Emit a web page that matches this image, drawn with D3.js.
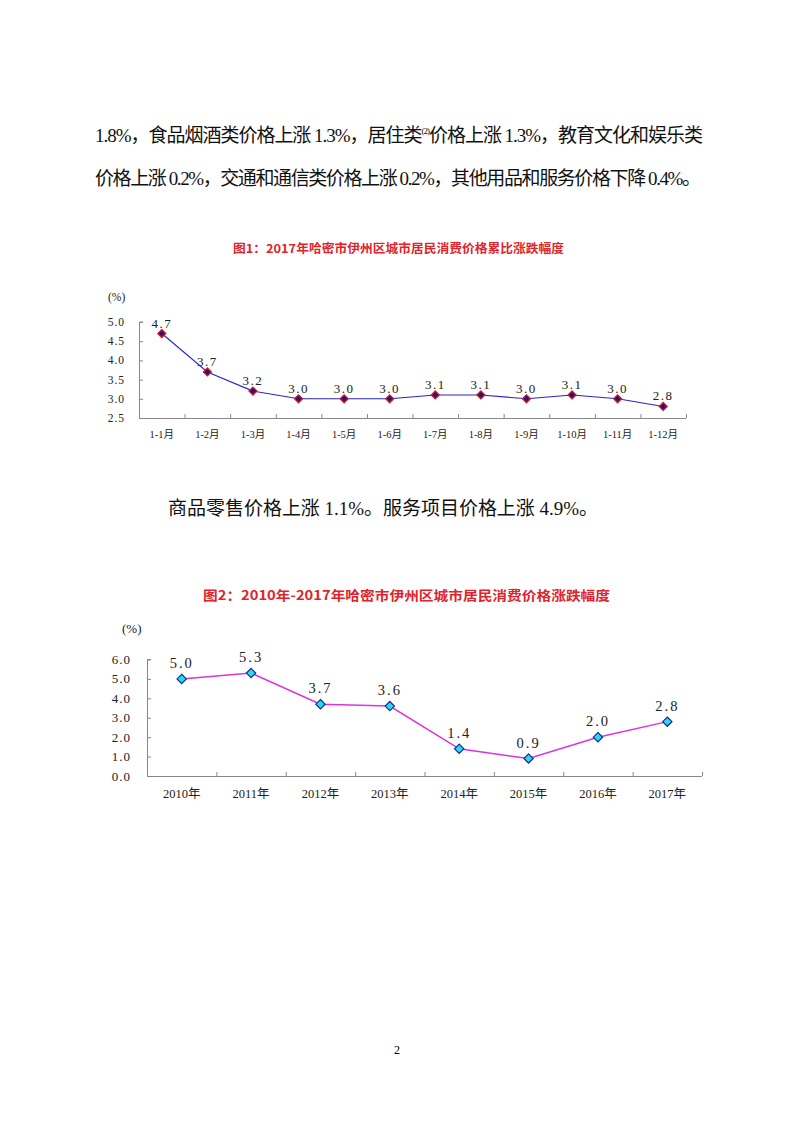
<!DOCTYPE html>
<html><head><meta charset="utf-8">
<script src="https://cdn.jsdelivr.net/npm/d3@7"></script>
<style>
html,body{margin:0;padding:0;background:#fff;}
svg{display:block;}
</style>
</head><body>
<script>
// ---- data ----
const bodyLines = [
  "1.8%，食品烟酒类价格上涨 1.3%，居住类",
  "价格上涨 0.2%，交通和通信类价格上涨 0.2%，其他用品和服务价格下降 0.4%。",
  "商品零售价格上涨 1.1%。服务项目价格上涨 4.9%。"
];
const chart1Title = "图1：2017年哈密市伊州区城市居民消费价格累比涨跌幅度";
const chart1Cats = ["1-1月","1-2月","1-3月","1-4月","1-5月","1-6月","1-7月","1-8月","1-9月","1-10月","1-11月","1-12月"];
const chart1Vals = [4.7,3.7,3.2,3.0,3.0,3.0,3.1,3.1,3.0,3.1,3.0,2.8];
const chart1Ticks = [2.5,3.0,3.5,4.0,4.5,5.0];

const chart2Title = "图2：2010年-2017年哈密市伊州区城市居民消费价格涨跌幅度";
const chart2Cats = ["2010年","2011年","2012年","2013年","2014年","2015年","2016年","2017年"];
const chart2Vals = [5.0,5.3,3.7,3.6,1.4,0.9,2.0,2.8];
const chart2Ticks = [0,1,2,3,4,5,6];

const W = 793, H = 1122;
const svg = d3.select("body").append("svg").attr("width", W).attr("height", H);
const serif = "'Liberation Serif','DejaVu Serif','Noto Sans CJK SC',serif";
const body = "'Liberation Serif','Noto Sans CJK SC',serif";
const cjk = "'Noto Sans CJK SC','Liberation Serif',serif";

// ---- body text ----
const line1 = svg.append("text").attr("x", 95).attr("y", 142)
  .attr("font-family", body).attr("font-size", 19).attr("fill", "#111");
line1.append("tspan").text(bodyLines[0]);
line1.append("tspan").attr("font-size", 9).attr("dy", -8).text("(2)");
line1.append("tspan").attr("dy", 8).text("价格上涨 1.3%，教育文化和娱乐类");
line1.attr("textLength", 608).attr("lengthAdjust", "spacing");

svg.append("text").attr("x", 95).attr("y", 185)
  .attr("font-family", body).attr("font-size", 19).attr("fill", "#111")
  .attr("textLength", 606).attr("lengthAdjust", "spacing").text(bodyLines[1]);

svg.append("text").attr("x", 168).attr("y", 515)
  .attr("font-family", body).attr("font-size", 19).attr("fill", "#111")
  .attr("textLength", 430).attr("lengthAdjust", "spacing").text(bodyLines[2]);

svg.append("text").attr("x", 397).attr("y", 1054).attr("text-anchor", "middle")
  .attr("font-family", serif).attr("font-size", 12).attr("fill", "#000").text("2");

// ---- generic line chart ----
function lineChart(o) {
  const g = svg.append("g");
  const x = d3.scaleBand().domain(o.cats).range([o.x0, o.x1]);
  const y = d3.scaleLinear().domain(o.domain).range([o.yb, o.yt]);

  g.append("text").attr("x", (o.titleX0 + o.titleX1) / 2).attr("y", o.titleY)
    .attr("text-anchor", "middle").attr("dominant-baseline", "central")
    .attr("font-family", cjk).attr("font-weight", "bold").attr("font-size", o.titleSize)
    .attr("fill", "#e1232b")
    .attr("textLength", o.titleX1 - o.titleX0).attr("lengthAdjust", "spacingAndGlyphs")
    .text(o.title);

  g.append("text").attr("x", o.pctX).attr("y", o.pctY).attr("dominant-baseline", "central")
    .attr("font-family", serif).attr("font-size", o.tickSize).attr("fill", "#222").text("(%)");

  // y axis
  const ya = g.append("g").attr("transform", `translate(${o.x0},0)`)
    .call(d3.axisRight(y).tickValues(o.ticks).tickSize(4).tickFormat(""));
  ya.select(".domain").attr("stroke", "#888").attr("d", `M4,${o.yt}H0.5V${o.yb}`);
  ya.selectAll(".tick line").attr("stroke", "#888");
  g.selectAll(".ylab").data(o.ticks).join("text")
    .attr("x", o.ylabX).attr("y", d => y(d)).attr("text-anchor", "end")
    .attr("dominant-baseline", "central")
    .attr("font-family", serif).attr("font-size", o.tickSize).attr("fill", "#222")
    .attr("letter-spacing", 1)
    .text(d => d3.format(".1f")(d));

  // x axis
  const bounds = o.cats.map(c => x(c)).concat([o.x1]);
  const xa = g.append("g");
  xa.append("line").attr("x1", o.x0).attr("x2", o.x1).attr("y1", o.yb + 0.5).attr("y2", o.yb + 0.5)
    .attr("stroke", "#888");
  xa.selectAll(".xt").data(bounds).join("line")
    .attr("x1", d => d + 0.5).attr("x2", d => d + 0.5).attr("y1", o.yb).attr("y2", o.yb - 4)
    .attr("stroke", "#888");
  g.selectAll(".xlab").data(o.cats).join("text")
    .attr("x", d => x(d) + x.bandwidth() / 2).attr("y", o.xlabY)
    .attr("text-anchor", "middle").attr("dominant-baseline", "central")
    .attr("font-family", serif).attr("font-size", o.catSize).attr("fill", "#222")
    .text(d => d);

  // line
  const pts = o.cats.map((c, i) => [x(c) + x.bandwidth() / 2, y(o.vals[i])]);
  g.append("path").attr("d", d3.line()(pts)).attr("fill", "none")
    .attr("stroke", o.lineColor).attr("stroke-width", o.lineWidth);

  // markers
  const sym = d3.symbol().type(d3.symbolDiamond2).size(o.markSize);
  g.selectAll(".mk").data(pts).join("path")
    .attr("transform", d => `translate(${d[0]},${d[1]})`)
    .attr("d", sym).attr("fill", o.markFill).attr("stroke", o.markStroke).attr("stroke-width", o.markStrokeW);

  // labels
  g.selectAll(".dl").data(o.vals).join("text")
    .attr("x", (d, i) => pts[i][0]).attr("y", (d, i) => pts[i][1] - o.labelGap)
    .attr("text-anchor", "middle")
    .attr("font-family", serif).attr("font-size", o.labelSize).attr("fill", "#222")
    .attr("letter-spacing", o.labelSpacing)
    .text(d => d3.format(".1f")(d));
}

lineChart({
  cats: chart1Cats, vals: chart1Vals, ticks: chart1Ticks, domain: [2.5, 5.0],
  x0: 139, x1: 686, yb: 418, yt: 322,
  title: chart1Title, titleX0: 233, titleX1: 564, titleY: 247, titleSize: 12,
  pctX: 108, pctY: 297, ylabX: 125, tickSize: 11.5, catSize: 10.5, xlabY: 434,
  lineColor: "#2626c8", lineWidth: 1.1,
  markSize: 40, markFill: "#1a1a7a", markStroke: "#e0141e", markStrokeW: 1.3,
  labelGap: 6, labelSize: 13, labelSpacing: 1.5
});

lineChart({
  cats: chart2Cats, vals: chart2Vals, ticks: chart2Ticks, domain: [0, 6],
  x0: 147, x1: 702, yb: 776, yt: 659.5,
  title: chart2Title, titleX0: 203, titleX1: 610, titleY: 594, titleSize: 13,
  pctX: 122, pctY: 628, ylabX: 131, tickSize: 13, catSize: 12.5, xlabY: 794,
  lineColor: "#dd33dd", lineWidth: 1.5,
  markSize: 55, markFill: "#22ddee", markStroke: "#1a2a8a", markStrokeW: 1.2,
  labelGap: 11, labelSize: 14.5, labelSpacing: 2
});
</script>
</body></html>
